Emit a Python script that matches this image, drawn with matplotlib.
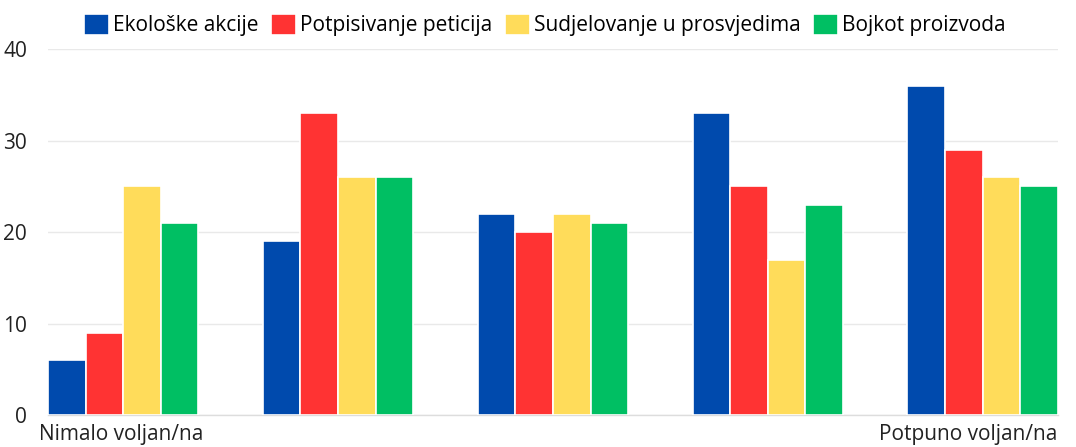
import matplotlib.pyplot as plt
import numpy as np

plt.rcParams['font.family'] = ['Open Sans', 'DejaVu Sans']

categories = ['Nimalo voljan/na', '', '', '', 'Potpuno voljan/na']
series = ['Ekološke akcije', 'Potpisivanje peticija', 'Sudjelovanje u prosvjedima', 'Bojkot proizvoda']
ekoloske = [6, 19, 22, 33, 36]
peticije = [9, 33, 20, 25, 29]
prosvjedi = [25, 26, 22, 17, 26]
bojkot = [21, 26, 21, 23, 25]
values = [ekoloske, peticije, prosvjedi, bojkot]
colors = ['#004AAD', '#FF3333', '#FFDC5A', '#00BF63']
yticks = [0, 10, 20, 30, 40]

FS = 15

fig = plt.figure(figsize=(10.76, 4.47), dpi=100)
ax = fig.add_axes([0.0446, 0.0716, 0.9385, 0.8184])

x = np.arange(len(categories))
width = 0.175
for i, (name, vals) in enumerate(zip(series, values)):
    ax.bar(x + (i - 1.5) * width, vals, width, color=colors[i], label=name,
           edgecolor='white', linewidth=1.2, zorder=3)

ax.set_ylim(0, 40)
ax.set_xlim(-0.35, len(categories) - 1 + 0.35)
ax.set_yticks(yticks)
ax.set_yticklabels([str(t) for t in yticks], fontsize=FS, color='#222222')
ax.yaxis.grid(True, color='#e9e9e9', linewidth=1, zorder=0)
ax.tick_params(axis='both', length=0)
ax.tick_params(axis='y', pad=15)
ax.set_xticks([])
for s in ['top', 'right', 'left']:
    ax.spines[s].set_visible(False)
ax.spines['bottom'].set_color('#dddddd')
ax.spines['bottom'].set_linewidth(1)

ax.text(-0.39, -1.0, categories[0], ha='left', va='top', fontsize=FS, color='#222222')
ax.text(len(categories) - 1 + 0.35, -1.0, categories[-1], ha='right', va='top',
        fontsize=FS, color='#222222')

ax.legend(loc='center', bbox_to_anchor=(0.492, 1.066), ncol=4, frameon=False,
          fontsize=FS, handlelength=1.2, handleheight=1.2, handletextpad=0.2,
          columnspacing=0.6, borderaxespad=0)

fig.savefig('out.png', dpi=100)
